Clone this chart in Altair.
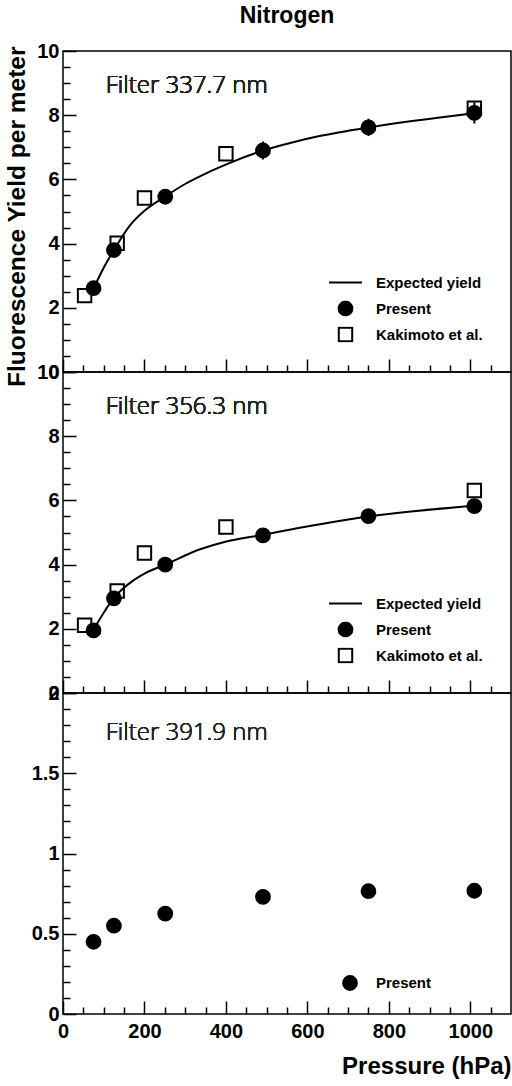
import altair as alt
import pandas as pd

# ---------------- data ----------------
pressure = [75, 125, 251, 491, 750, 1010]
present_337 = [2.61, 3.80, 5.46, 6.90, 7.62, 8.07]
present_337_err = [0.06, 0.10, 0.16, 0.28, 0.27, 0.33]
present_356 = [1.95, 2.95, 4.00, 4.91, 5.51, 5.82]
present_392 = [0.45, 0.55, 0.625, 0.73, 0.765, 0.768]

kakimoto_pressure = [53, 133, 200, 400, 1010]
kakimoto_337 = [2.38, 4.01, 5.42, 6.80, 8.22]
kakimoto_356 = [2.11, 3.18, 4.36, 5.17, 6.31]

curve_337_p = [75, 100, 127, 164, 200, 250, 303, 360, 401, 491, 565, 630, 750, 925, 1010]
curve_337_y = [2.60, 3.25, 3.84, 4.56, 5.02, 5.46, 5.88, 6.24, 6.47, 6.90, 7.16, 7.35, 7.62, 7.93, 8.06]
curve_356_p = [75, 100, 125, 172, 200, 251, 335, 401, 491, 581, 663, 750, 867, 1010]
curve_356_y = [1.97, 2.50, 2.96, 3.50, 3.72, 4.00, 4.47, 4.72, 4.93, 5.15, 5.33, 5.50, 5.67, 5.83]

x_major = [0, 200, 400, 600, 800, 1000]
x_minor = [v for v in range(50, 1100, 50) if v % 200 != 0]
y_major_a = [0, 2, 4, 6, 8, 10]
y_minor_a = [v / 2 for v in range(1, 20) if v % 4 != 0]
y_major_b = [0, 0.5, 1, 1.5, 2]
y_minor_b = [round(v / 10, 1) for v in range(1, 20) if v % 5 != 0]

SERIES = ["Expected yield", "Present", "Kakimoto et al."]
SHAPES = ["stroke", "circle", "square"]
FILLS = ["black", "black", "transparent"]
SIZES = [1089, 190, 180]

FONT = "Liberation Sans"
W, H = 448, 321


def make_panel(present, errs, kak, curve_p, curve_y, ydom, ymaj, ymin, yfmt, label,
               label_pos, legend_series, legend_pos, ytitle=None, xlabels=False,
               label_offset=13):
    xs = alt.Scale(domain=[0, 1100], nice=False, zero=False)
    ys = alt.Scale(domain=ydom, nice=False, zero=False)
    common = dict(domain=False, grid=False, tickColor="black", tickWidth=1.5,
                  labelFlush=False, labelOverlap=False)
    xax = alt.Axis(orient="bottom", offset=-13, tickSize=13, values=x_major,
                   labels=xlabels, format="d", labelFont=FONT, labelFontWeight="bold",
                   labelFontSize=20, labelColor="black", labelPadding=7,
                   title="Pressure (hPa)" if xlabels else None,
                   titleFont=FONT, titleFontSize=24, titleFontWeight="bold",
                   titleColor="black", titleAnchor="end", titlePadding=13, **common)
    yax_kw = dict(orient="left", offset=-13, tickSize=13, values=ymaj, format=yfmt,
                  labelFont=FONT, labelFontWeight="bold", labelFontSize=20,
                  labelColor="black", labelPadding=4, **common)
    if ytitle:
        yax = alt.Axis(title=ytitle, titleFont=FONT, titleFontSize=24.5,
                       titleFontWeight="bold", titleColor="black", titleAnchor="end",
                       titlePadding=7, titleY=-5, **yax_kw)
    else:
        yax = alt.Axis(title=None, **yax_kw)

    idx = [SERIES.index(s) for s in legend_series]
    leg = alt.Legend(title=None, orient="none", legendX=legend_pos[0], legendY=legend_pos[1],
                     labelFont=FONT, labelFontWeight="bold", labelFontSize=15,
                     labelColor="black", labelOffset=label_offset, rowPadding=10,
                     clipHeight=16, symbolStrokeColor="black", symbolStrokeWidth=2,
                     symbolOpacity=1)
    dom = legend_series
    shape = alt.Shape("series:N", scale=alt.Scale(domain=dom,
                      range=[SHAPES[i] for i in idx]), legend=leg)
    fill = alt.Fill("series:N", scale=alt.Scale(domain=dom,
                    range=[FILLS[i] for i in idx]), legend=leg)
    stroke = alt.Stroke("series:N", scale=alt.Scale(domain=dom,
                        range=["black"] * len(idx)), legend=leg)
    size = alt.Size("series:N", scale=alt.Scale(type="ordinal", domain=dom,
                    range=[SIZES[i] for i in idx]), legend=leg)

    X = lambda f: alt.X(f, scale=xs, axis=xax)
    Y = lambda f: alt.Y(f, scale=ys, axis=yax)

    rows = [{"p": p, "y": v, "series": "Present"} for p, v in zip(pressure, present)]
    if kak is not None:
        rows = [{"p": p, "y": v, "series": "Kakimoto et al."}
                for p, v in zip(kakimoto_pressure, kak)] + rows
    pts = pd.DataFrame(rows)

    layers = []
    if curve_p is not None:
        cdf = pd.DataFrame({"p": curve_p, "y": curve_y})
        layers.append(alt.Chart(cdf).mark_line(color="black", strokeWidth=2,
                                               interpolate="monotone")
                      .encode(x=X("p:Q"), y=Y("y:Q")))
    layers.append(alt.Chart(pts).mark_point(strokeWidth=2, opacity=1)
                  .encode(x=X("p:Q"), y=Y("y:Q"), shape=shape, fill=fill,
                          stroke=stroke, size=size))
    if errs is not None:
        edf = pd.DataFrame({"p": pressure,
                            "lo": [v - e for v, e in zip(present, errs)],
                            "hi": [v + e for v, e in zip(present, errs)]})
        layers.append(alt.Chart(edf).mark_rule(color="black", strokeWidth=2)
                      .encode(x=X("p:Q"), y=Y("lo:Q"), y2="hi:Q"))
    layers.append(alt.Chart(pts).mark_text(text=label, align="left", baseline="middle",
                                           font="Open Sans", fontWeight=300,
                                           fontSize=24, color="#222")
                  .encode(x=alt.XDatum(label_pos[0], scale=xs, axis=xax),
                          y=alt.YDatum(label_pos[1], scale=ys, axis=yax)))
    main = alt.layer(*layers)

    xminax = alt.Axis(orient="bottom", offset=-7, tickSize=7, values=x_minor,
                      labels=False, title=None, **common)
    yminax = alt.Axis(orient="left", offset=-7, tickSize=7, values=ymin,
                      labels=False, title=None, **common)
    minor = alt.Chart(pts).mark_point(opacity=0).encode(
        x=alt.X("p:Q", scale=xs, axis=xminax), y=alt.Y("y:Q", scale=ys, axis=yminax))

    return alt.layer(main, minor).resolve_scale(x="independent", y="independent") \
        .properties(width=W, height=H)


p1 = make_panel(present_337, present_337_err, kakimoto_337, curve_337_p, curve_337_y,
                [0, 10], y_major_a, y_minor_a, "d", "Filter 337.7 nm", (105, 8.92),
                SERIES, (265, 223.5), ytitle="Fluorescence Yield per meter")
p1 = p1.properties(title=alt.TitleParams("Nitrogen", frame="group", anchor="middle",
                                         font=FONT, fontSize=23, fontWeight="bold",
                                         color="black", offset=13))
p2 = make_panel(present_356, None, kakimoto_356, curve_356_p, curve_356_y,
                [0, 10], y_major_a, y_minor_a, "d", "Filter 356.3 nm", (105, 8.92),
                SERIES, (265, 223.5))
p3 = make_panel(present_392, None, None, None, None,
                [0, 2], y_major_b, y_minor_b, ".1~f", "Filter 391.9 nm", (105, 1.75),
                ["Present"], (279, 282), xlabels=True, label_offset=18)

chart = alt.vconcat(p1, p2, p3, spacing=0, bounds="flush").resolve_scale(
    shape="independent", fill="independent", size="independent", stroke="independent"
).resolve_legend(shape="independent", fill="independent", size="independent",
                 stroke="independent"
).configure_view(stroke="black", strokeWidth=1.5).properties(
    padding={"left": 4, "top": 4, "right": 0, "bottom": 0}, background="white")

chart.save("out.html", embed_options={"renderer": "svg", "actions": False})
